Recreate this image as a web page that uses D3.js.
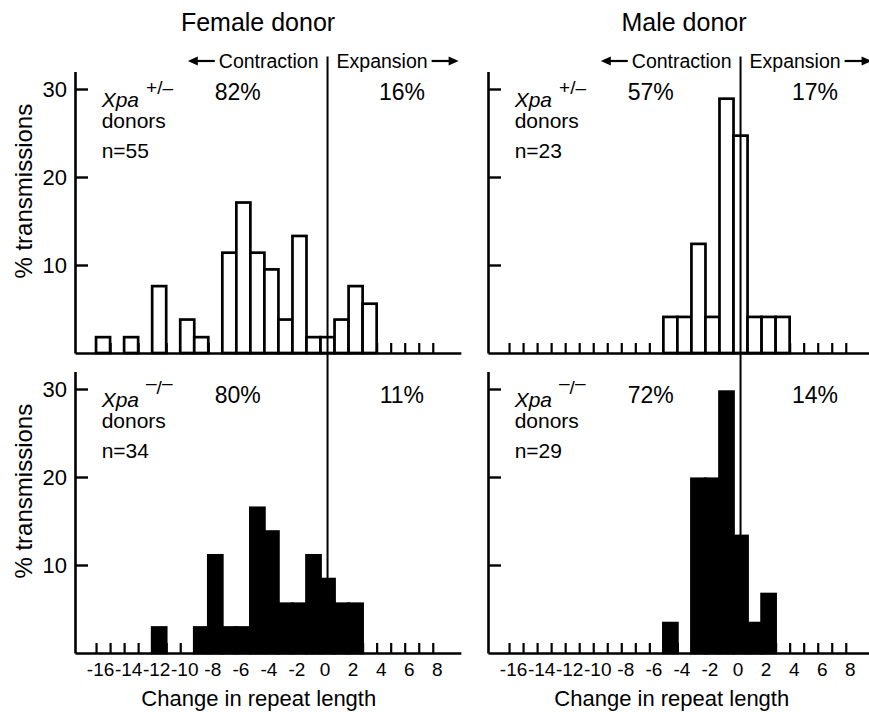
<!DOCTYPE html>
<html lang="en">
<head>
<meta charset="UTF-8" />
<title>Change in repeat length, Xpa donors</title>
<script src="https://d3js.org/d3.v7.min.js"></script>
<style>
  body { margin: 0; background: #fff; }
  svg { display: block; font-family: 'Liberation Sans', Arial, Helvetica, sans-serif; }
</style>
</head>
<body>
<svg id="chart" width="869" height="712"></svg>
<script>
// bin = change in repeat length, pct = % transmissions
const femaleHetBins = [-16, -14, -12, -10, -9, -7, -6, -5, -4, -3, -2, -1, 0, 1, 2, 3];
const femaleHetPct  = [1.8, 1.8, 7.6, 3.8, 1.8, 11.4, 17.1, 11.4, 9.5, 3.8, 13.3, 1.8, 1.8, 3.8, 7.6, 5.6];

const maleHetBins = [-5, -4, -3, -2, -1, 0, 1, 2, 3];
const maleHetPct  = [4.1, 4.1, 12.4, 4.1, 28.9, 24.7, 4.1, 4.1, 4.1];

const femaleNullBins = [-12, -9, -8, -7, -6, -5, -4, -3, -2, -1, 0, 1, 2];
const femaleNullPct  = [2.9, 2.9, 11.1, 2.9, 2.9, 16.5, 13.8, 5.6, 5.6, 11.1, 8.4, 5.6, 5.6];

const maleNullBins = [-5, -3, -2, -1, 0, 1, 2];
const maleNullPct  = [3.4, 19.8, 19.8, 29.7, 13.3, 3.4, 6.7];

const donorTitles = ["Female donor", "Male donor"];
const genotypes = ["+/–", "–/–"];
const sampleSizes = ["n=55", "n=23", "n=34", "n=29"];
const contractionPct = ["82%", "57%", "80%", "72%"];
const expansionPct = ["16%", "17%", "11%", "14%"];
const yTicks = [10, 20, 30];
const xTickLabels = d3.range(-16, 9, 2);
const binEdges = d3.range(-16.5, 8, 1);

const panels = [
  { col: 0, row: 0, bins: femaleHetBins, pct: femaleHetPct },
  { col: 1, row: 0, bins: maleHetBins, pct: maleHetPct },
  { col: 0, row: 1, bins: femaleNullBins, pct: femaleNullPct },
  { col: 1, row: 1, bins: maleNullBins, pct: maleNullPct }
];

const svg = d3.select("#chart");
const xDomain = [-18, 9.5], yDomain = [0, 32];
const colLeft = [75, 488], rowBase = [353, 653];
const unitW = 14.03, unitH = 8.8;

const xScale = col => d3.scaleLinear().domain(xDomain)
  .range([colLeft[col], colLeft[col] + (xDomain[1] - xDomain[0]) * unitW]);
const yScale = row => d3.scaleLinear().domain(yDomain)
  .range([rowBase[row], rowBase[row] - yDomain[1] * unitH]);

panels.forEach((p, i) => {
  const x = xScale(p.col), y = yScale(p.row);
  const g = svg.append("g");

  // baseline with small upward ticks at every bin edge
  const base = g.append("g")
    .attr("transform", `translate(0,${y(0)})`)
    .call(d3.axisBottom(x).tickValues(binEdges).tickSize(-10).tickSizeOuter(0).tickFormat(""));
  base.select(".domain").attr("stroke-width", 2.6);
  base.selectAll(".tick line").attr("stroke-width", 2.2);

  // bars
  g.selectAll("rect")
    .data(p.bins.map((b, j) => ({ b, v: p.pct[j] })))
    .join("rect")
    .attr("x", d => x(d.b - 0.5))
    .attr("width", x(1) - x(0))
    .attr("y", d => y(d.v))
    .attr("height", d => y(0) - y(d.v))
    .attr("fill", p.row === 0 ? "#fff" : "#000")
    .attr("stroke", "#000")
    .attr("stroke-width", 2.7);

  // y axis, ticks pointing inwards
  const ya = g.append("g")
    .attr("transform", `translate(${x(xDomain[0])},0)`)
    .call(d3.axisLeft(y).tickValues(yTicks).tickSizeInner(-13).tickSizeOuter(0).tickPadding(8)
      .tickFormat(p.col === 0 ? d3.format("d") : ""));
  ya.select(".domain").attr("stroke-width", 2.6);
  ya.selectAll(".tick line").attr("stroke-width", 2.4);
  ya.selectAll("text").attr("font-size", 22).attr("fill", "#000");

  // x tick labels, bottom row only
  if (p.row === 1) {
    const xa = g.append("g")
      .attr("transform", `translate(0,${y(0)})`)
      .call(d3.axisBottom(x).tickValues(xTickLabels).tickSize(0).tickPadding(10).tickFormat(d => String(d)));
    xa.select(".domain").remove();
    xa.selectAll("text").attr("font-size", 19).attr("fill", "#000").attr("dx", -3);

    g.append("text")
      .attr("x", x(-4.9)).attr("y", 706)
      .attr("text-anchor", "middle").attr("font-size", 22)
      .text("Change in repeat length");
  }

  if (p.col === 0) {
    const cy = (y(0) + y(32)) / 2 - 21;
    g.append("text")
      .attr("transform", `translate(32,${cy}) rotate(-90)`)
      .attr("text-anchor", "middle").attr("font-size", 24)
      .text("% transmissions");
  }

  // genotype label block
  const lab = g.append("text").attr("x", x(-16.1)).attr("y", y(28)).attr("font-size", 21);
  lab.append("tspan").attr("font-style", "italic").text("Xpa");
  if (p.row === 0) {
    lab.append("tspan").attr("dx", 7).attr("dy", -13).attr("font-size", 19).text(genotypes[0]);
  } else {
    const parts = genotypes[1].split("/");
    lab.append("tspan").attr("dx", 7).attr("dy", -18).attr("font-size", 19).text(parts[0]);
    lab.append("tspan").attr("dy", 5).attr("font-size", 19).text("/");
    lab.append("tspan").attr("dy", -5).attr("font-size", 19).text(parts[1]);
  }
  g.append("text").attr("x", x(-16.1)).attr("y", y(25.6)).attr("font-size", 21).text("donors");
  g.append("text").attr("x", x(-16.1)).attr("y", y(22.2)).attr("font-size", 21).text(sampleSizes[i]);

  g.append("text").attr("x", x(-6.4)).attr("y", y(28.8) + (p.row === 1 ? 3 : 0))
    .attr("text-anchor", "middle").attr("font-size", 23).text(contractionPct[i]);
  g.append("text").attr("x", x(5.3)).attr("y", y(28.8) + (p.row === 1 ? 3 : 0))
    .attr("text-anchor", "middle").attr("font-size", 23).text(expansionPct[i]);
});

// column furniture: titles, zero line, contraction/expansion header
[0, 1].forEach(col => {
  const x = xScale(col);
  const yTop = yScale(0), yBot = yScale(1);
  const x0 = x(0);

  svg.append("text")
    .attr("x", col === 0 ? 258 : 684).attr("y", 31)
    .attr("text-anchor", "middle").attr("font-size", 25)
    .text(donorTitles[col]);

  svg.append("line")
    .attr("x1", x0).attr("x2", x0)
    .attr("y1", yTop(32) - 15).attr("y2", yBot(0))
    .attr("stroke", "#000").attr("stroke-width", 2);

  const hy = 68;
  const con = svg.append("text").attr("x", x0 - 9).attr("y", hy)
    .attr("text-anchor", "end").attr("font-size", 19.5).text("Contraction");
  const exp = svg.append("text").attr("x", x0 + 9).attr("y", hy)
    .attr("font-size", 19.5).text("Expansion");
  const cw = con.node().getComputedTextLength();
  const ew = exp.node().getComputedTextLength();
  const ay = hy - 7;

  // left arrow
  const la = x0 - 9 - cw - 4;
  svg.append("line").attr("x1", la - 24).attr("x2", la).attr("y1", ay).attr("y2", ay)
    .attr("stroke", "#000").attr("stroke-width", 2.2);
  svg.append("path").attr("d", `M${la - 27},${ay} L${la - 17},${ay - 4.5} L${la - 17},${ay + 4.5} Z`).attr("fill", "#000");

  // right arrow
  const ra = x0 + 9 + ew + 4;
  svg.append("line").attr("x1", ra).attr("x2", ra + 24).attr("y1", ay).attr("y2", ay)
    .attr("stroke", "#000").attr("stroke-width", 2.2);
  svg.append("path").attr("d", `M${ra + 27},${ay} L${ra + 17},${ay - 4.5} L${ra + 17},${ay + 4.5} Z`).attr("fill", "#000");
});
</script>
</body>
</html>
